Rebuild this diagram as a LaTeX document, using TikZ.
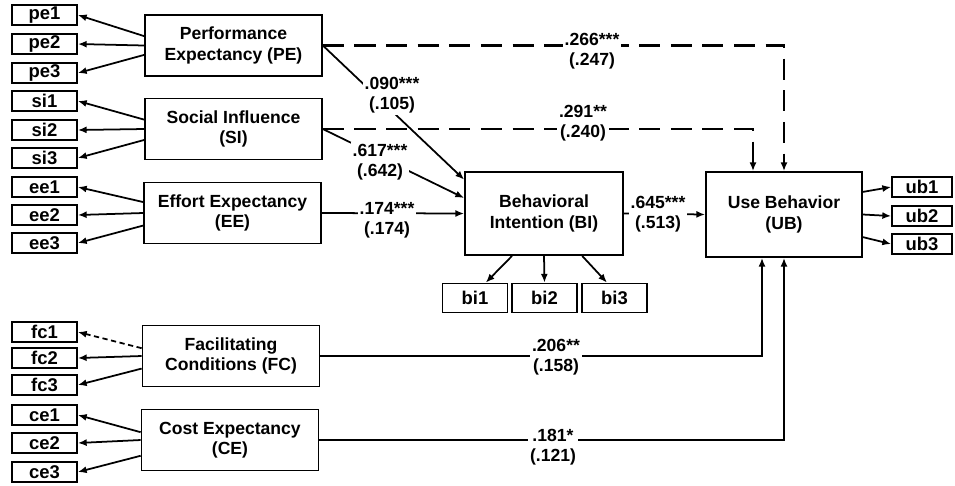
\documentclass[tikz,border=0pt]{standalone}
\usepackage{fontspec}
\setmainfont{Liberation Sans}
\usepackage{tikz}
\usetikzlibrary{arrows.meta, positioning, calc}

\begin{document}
\begin{tikzpicture}[
    x=0.02cm, y=-0.02cm,
    >={Latex[length=5pt,width=4pt]},
    every node/.style={font=\bfseries\fontsize{10}{11.5}\selectfont},
    construct/.style={rectangle, draw, line width=1pt, align=center, minimum width=3.54cm, minimum height=1.22cm},
    indicator/.style={rectangle, draw, line width=1pt, minimum width=1.3cm, minimum height=0.4cm, inner sep=0pt, font=\bfseries\fontsize{10.5}{12}\selectfont},
    coef/.style={fill=white, align=center, inner sep=1pt},
    link/.style={->, line width=1pt},
    dashlink/.style={->, line width=1.2pt, dash pattern=on 12pt off 6pt}
]
    \useasboundingbox (0,0) rectangle (955,485);

    % Constructs
    \node[construct] (pe) at (233.5,45.5) {Performance\\Expectancy (PE)};
    \node[construct] (si) at (233.5,129) {Social Influence\\(SI)};
    \node[construct] (ee) at (232.5,213) {Effort Expectancy\\(EE)};
    \node[construct] (fc) at (231,356) {Facilitating\\Conditions (FC)};
    \node[construct] (ce) at (230,440) {Cost Expectancy\\(CE)};
    \node[construct, minimum width=3.16cm, minimum height=1.66cm] (bi) at (544,213.5) {Behavioral\\Intention (BI)};
    \node[construct, minimum width=3.12cm, minimum height=1.7cm] (ub) at (784,214.5) {Use Behavior\\(UB)};

    % Indicators (left)
    \node[indicator] (pe1) at (44.5,15) {pe1};
    \node[indicator] (pe2) at (44.5,44) {pe2};
    \node[indicator] (pe3) at (44.5,73) {pe3};
    \node[indicator] (si1) at (44.5,101) {si1};
    \node[indicator] (si2) at (44.5,130) {si2};
    \node[indicator] (si3) at (44.5,158) {si3};
    \node[indicator] (ee1) at (44.5,187) {ee1};
    \node[indicator] (ee2) at (44.5,215) {ee2};
    \node[indicator] (ee3) at (44.5,243) {ee3};
    \node[indicator] (fc1) at (44.5,332) {fc1};
    \node[indicator] (fc2) at (44.5,358) {fc2};
    \node[indicator] (fc3) at (44.5,385) {fc3};
    \node[indicator] (ce1) at (44.5,415) {ce1};
    \node[indicator] (ce2) at (44.5,443) {ce2};
    \node[indicator] (ce3) at (44.5,472) {ce3};

    % Indicators (BI, UB)
    \node[indicator, minimum height=0.58cm] (bi1) at (475,298) {bi1};
    \node[indicator, minimum height=0.58cm] (bi2) at (544.5,298) {bi2};
    \node[indicator, minimum height=0.58cm] (bi3) at (614.5,298) {bi3};
    \node[indicator, minimum width=1.2cm] (ub1) at (922,187) {ub1};
    \node[indicator, minimum width=1.2cm] (ub2) at (922,216) {ub2};
    \node[indicator, minimum width=1.2cm] (ub3) at (922,244) {ub3};

    % Loadings
    \draw[link] (pe.174) -- (pe1.east);
    \draw[link] (pe.west) -- (pe2.east);
    \draw[link] (pe.186) -- (pe3.east);
    \draw[link] (si.174) -- (si1.east);
    \draw[link] (si.west) -- (si2.east);
    \draw[link] (si.187) -- (si3.east);
    \draw[link] (ee.173) -- (ee1.east);
    \draw[link] (ee.west) -- (ee2.east);
    \draw[link] (ee.188) -- (ee3.east);
    \draw[link, dash pattern=on 3pt off 2pt] (fc.175) -- (fc1.east);
    \draw[link] (fc.west) -- (fc2.east);
    \draw[link] (fc.188) -- (fc3.east);
    \draw[link] (ce.175) -- (ce1.east);
    \draw[link] (ce.west) -- (ce2.east);
    \draw[link] (ce.190) -- (ce3.east);
    \draw[link] (bi.233) -- (bi1.55);
    \draw[link] (bi.south) -- (bi2.north);
    \draw[link] (bi.312) -- (bi3.116);
    \draw[link] (ub.16) -- (ub1.west);
    \draw[link] (ub.east) -- (ub2.west);
    \draw[link] (ub.-16) -- (ub3.west);

    % Paths
    \draw[dashlink] (pe.east) -| (ub.north);
    \draw[dashlink] (si.east) -| ($(ub.north)+(-31,0)$);
    \draw[link] (pe.east) -- (bi.157);
    \draw[link] (si.east) -- (bi.169);
    \draw[link] (ee.east) -- (bi.west);
    \draw[link] (bi.east) -- (ub.west);
    \draw[link] (fc.east) -| ($(ub.south)+(-22,0)$);
    \draw[link] (ce.east) -| (ub.south);

    % Coefficients
    \node[coef] (c1) at (592,51) {.266***\\(.247)};
    \node[coef] (c2) at (583,123) {.291**\\(.240)};
    \node[coef] (c3) at (392,95) {.090***\\(.105)};
    \node[coef] (c4) at (380,162) {.617***\\(.642)};
    \node[coef] (c5) at (387,220) {.174***\\(.174)};
    \node[coef] (c6) at (658,214) {.645***\\(.513)};
    \node[coef] (c7) at (556,357) {.206**\\(.158)};
    \node[coef] (c8) at (553,447) {.181*\\(.121)};
\end{tikzpicture}
\end{document}
